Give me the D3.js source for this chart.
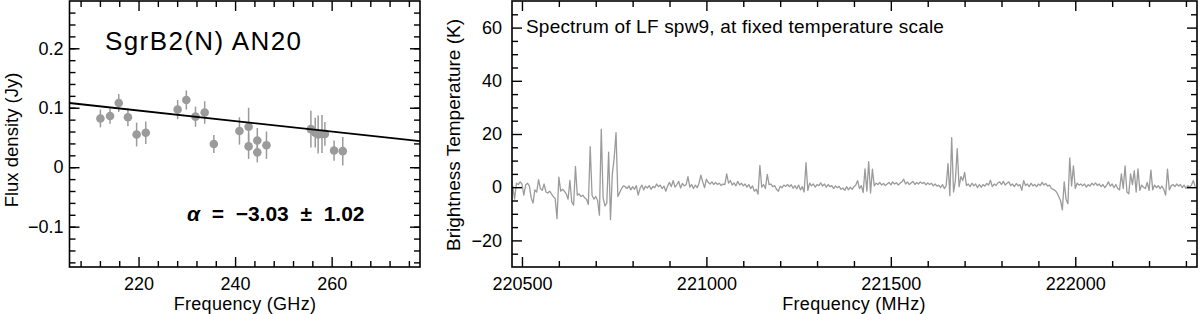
<!DOCTYPE html>
<html>
<head>
<meta charset="utf-8">
<script src="https://cdn.jsdelivr.net/npm/d3@7"></script>
<style>
  body { margin: 0; background: #fff; }
  svg { display: block; font-family: "Liberation Sans", Arial, sans-serif; }
  .tick line { stroke: #000; stroke-width: 1.4; }
  .tick text { fill: #000; }
</style>
</head>
<body>
<div id="chart-area"></div>
<script>
// ---- data: left panel (SED of AN20) ----
var sedFreq = [212.1, 214.1, 215.9, 217.8, 219.6, 221.5, 228.1, 229.9, 231.8, 233.7, 235.6,
               240.9, 242.8, 242.8, 244.6, 244.6, 246.5, 255.7, 256.6, 257.2, 258.0, 258.6, 260.5, 262.3];
var sedFlux = [0.082, 0.086, 0.108, 0.084, 0.055, 0.058, 0.097, 0.113, 0.085, 0.092, 0.039,
               0.061, 0.068, 0.035, 0.045, 0.025, 0.037, 0.064, 0.058, 0.055, 0.056, 0.056, 0.028, 0.027];
var sedErr  = [0.015, 0.013, 0.015, 0.015, 0.020, 0.019, 0.016, 0.016, 0.017, 0.019, 0.015,
               0.023, 0.032, 0.021, 0.021, 0.017, 0.023, 0.031, 0.025, 0.032, 0.032, 0.020, 0.017, 0.024];
// fitted line, read at both frame edges
var fitFreq = [205.7, 278.3];
var fitFlux = [0.108, 0.0437];

var sedXTicks = [220, 240, 260];
var sedYTicks = [-0.1, 0, 0.1, 0.2];

// ---- data: right panel (spectrum, channels every 5 MHz from 220475) ----
var specStart = 220475, specStep = 5;
var specTemp = [
  0.5, -4.5, 1.5, 1.0, 2.0, 1.2, -3.0, 0.8, 1.5, 0.5,
  -4.0, -6.0, -1.0, -1.8, 2.8, -0.5, -1.2, 1.2, -1.8, -2.2,
  -1.5, -2.5, -3.6, -4.2, -11.8, 3.8, -1.5, -0.8, -1.5, -2.5,
  -4.5, 2.6, -5.5, -6.8, 7.8, -3.0, -2.5, -3.5, -3.0, -4.0,
  -4.5, -6.5, 15.2, -3.0, -4.5, -3.5, -5.0, -10.5, 21.8, -4.0,
  -7.0, -6.0, 13.2, -12.2, 5.0, 11.0, 20.5, -3.5, -2.0, -0.5,
  0.5, 0.2, -0.5, 0.5, -1.0, 0.2, -0.8, 0.6, -3.0, -0.5,
  0.8, -1.0, 0.4, -0.3, 0.6, -0.8, 0.3, -0.2, 1.2, 0.2,
  0.8, -0.5, 0.4, -1.5, 0.5, 1.8, 0.2, 2.5, 0.0, 1.0,
  2.2, -0.3, 1.4, 0.5, 0.9, 4.0, 0.0, 1.0, -0.5, 0.8,
  -0.2, 1.5, 4.5, 2.0, -0.2, 3.0, 1.8, 1.2, 2.0, 1.0,
  1.8, 1.0, 1.5, 0.6, 1.2, 1.0, 5.0, 1.5, 2.5, 0.8,
  1.6, 0.5, 2.2, 0.8, 1.5, 0.5, 1.2, 0.0, 1.0, -0.5,
  0.5, -1.5, -0.8, -2.6, 8.2, 0.0, 1.0, -0.5, 4.8, 1.0,
  1.2, 0.2, 0.6, -0.8, -1.5, 0.4, -0.2, 0.8, 0.3, 1.0,
  0.2, 0.9, -0.4, 0.6, -0.6, 0.8, -1.0, 0.2, -1.8, 9.2,
  -1.2, 1.5, 0.5, 1.2, 0.0, 1.0, 0.6, 1.6, 0.4, 1.2,
  0.0, 1.0, 0.2, 0.6, -0.5, 0.5, -0.2, 0.3, -0.8, -0.3,
  -1.2, 0.2, -1.0, 0.0, -0.8, 0.2, 0.8, 2.5, -0.5, 0.6,
  -2.0, 6.9, -1.5, 9.6, -2.2, 6.8, 0.5, 1.5, 1.0, 1.8,
  0.8, 1.4, 0.6, 1.2, 1.8, 0.9, 2.0, 1.2, 1.7, 0.8,
  1.5, 2.0, 3.0, 1.2, 2.0, 1.0, 1.6, 2.2, 1.0, 1.8,
  1.2, 2.0, 1.4, 1.8, 0.9, 1.6, 1.0, 1.5, 0.5, 1.2,
  0.4, 0.8, -0.2, 1.0, -0.5, 0.5, 8.9, -3.2, 18.6, -1.8,
  2.5, 14.5, 0.2, 4.0, 2.5, 5.6, 0.6, 1.2, 0.2, 1.5,
  0.5, 1.2, -0.2, 1.0, 0.0, 1.0, 0.4, 1.4, 0.8, 2.6,
  0.2, 1.2, 0.6, 1.6, 2.0, 1.0, 2.2, 0.8, 1.5, 2.0,
  0.6, 1.2, 0.2, 1.4, 0.5, 1.0, -1.2, 2.5, 0.6, 1.2,
  0.2, 1.5, 0.5, 1.0, 0.2, 1.2, 0.6, 1.8, 0.8, 1.4,
  0.4, 0.8, -0.4, -0.8, -1.2, -2.0, -3.5, -5.0, -8.5, 2.0,
  -4.5, -6.2, 11.0, 0.5, 8.0, -0.5, 1.5, 0.8, 1.2, 0.5,
  1.2, 0.0, 1.0, 0.4, 1.5, 0.8, 1.6, 0.6, 1.2, 0.2,
  1.0, -0.2, 0.8, 2.0, 0.4, 1.2, -0.2, 1.0, -0.5, -1.0,
  5.0, -0.5, 8.0, -1.8, -2.5, 5.0, 1.0, 6.2, -1.8, 6.9,
  -1.2, 0.8, 0.0, -0.5, 1.8, -1.2, 6.4, -1.0, 0.8, -0.2,
  0.6, -0.5, 0.4, -0.8, -3.0, 6.8, -1.0, 0.5, 1.0, 0.2,
  1.2, 0.4, 1.0, -0.2, 0.8, -0.5, 0.6, 0.0, 0.8, 2.5,
  0.2
];
var specXTicks = [220500, 221000, 221500, 222000];
var specYTicks = [-20, 0, 20, 40, 60];

// ---- svg ----
var W = 1200, H = 314;
var svg = d3.select("#chart-area")
  .append("svg")
    .attr("width", W)
    .attr("height", H);

var grey = "#9b9b9b";
var fs = 18,      // x axis titles
    tfs = 18;     // tick labels

// draws ticks on all four sides + frame
function frame(g, x, y, xMaj, xMin, yMaj, yMin, xFmt, yFmt, yPad) {
  var x0 = x.range()[0], x1 = x.range()[1];
  var y0 = y.range()[0], y1 = y.range()[1];
  var big = 10, small = 6;
  var noDomain = function(a) { a.select(".domain").remove(); };
  var labels = function(a) {
    a.select(".domain").remove();
    a.selectAll("text").attr("font-size", tfs).attr("font-family", null);
  };

  // bottom
  g.append("g").attr("transform", "translate(0," + y0 + ")")
    .call(d3.axisBottom(x).tickValues(xMaj).tickSize(-big).tickPadding(10).tickFormat(xFmt))
    .call(labels);
  g.append("g").attr("transform", "translate(0," + y0 + ")")
    .call(d3.axisBottom(x).tickValues(xMin).tickSize(-small).tickFormat(""))
    .call(noDomain);
  // top
  g.append("g").attr("transform", "translate(0," + y1 + ")")
    .call(d3.axisTop(x).tickValues(xMaj).tickSize(-big).tickFormat(""))
    .call(noDomain);
  g.append("g").attr("transform", "translate(0," + y1 + ")")
    .call(d3.axisTop(x).tickValues(xMin).tickSize(-small).tickFormat(""))
    .call(noDomain);
  // left
  g.append("g").attr("transform", "translate(" + x0 + ",0)")
    .call(d3.axisLeft(y).tickValues(yMaj).tickSize(-big).tickPadding(yPad).tickFormat(yFmt))
    .call(labels);
  g.append("g").attr("transform", "translate(" + x0 + ",0)")
    .call(d3.axisLeft(y).tickValues(yMin).tickSize(-small).tickFormat(""))
    .call(noDomain);
  // right
  g.append("g").attr("transform", "translate(" + x1 + ",0)")
    .call(d3.axisRight(y).tickValues(yMaj).tickSize(-big).tickFormat(""))
    .call(noDomain);
  g.append("g").attr("transform", "translate(" + x1 + ",0)")
    .call(d3.axisRight(y).tickValues(yMin).tickSize(-small).tickFormat(""))
    .call(noDomain);

  g.append("rect")
    .attr("x", x0).attr("y", y1)
    .attr("width", x1 - x0).attr("height", y0 - y1)
    .attr("fill", "none").attr("stroke", "#000").attr("stroke-width", 1.6);
}

var minus = function(v) { return String(v).replace("-", "\u2212"); };

// ================= left panel =================
var x1s = d3.scaleLinear().domain([205.7, 278.3]).range([69.5, 420]);
var y1s = d3.scaleLinear().domain([-0.1678, 0.2795]).range([267, 1]);

var left = svg.append("g");

// error bars
left.selectAll(".err")
  .data(sedFreq)
  .enter().append("line")
    .attr("x1", function(d) { return x1s(d); })
    .attr("x2", function(d) { return x1s(d); })
    .attr("y1", function(d, i) { return y1s(sedFlux[i] - sedErr[i]); })
    .attr("y2", function(d, i) { return y1s(sedFlux[i] + sedErr[i]); })
    .attr("stroke", grey).attr("stroke-width", 1.5);

left.selectAll(".dot")
  .data(sedFreq)
  .enter().append("circle")
    .attr("cx", function(d) { return x1s(d); })
    .attr("cy", function(d, i) { return y1s(sedFlux[i]); })
    .attr("r", 4.3)
    .attr("fill", grey);

left.append("path")
  .datum(fitFreq)
  .attr("d", d3.line()
    .x(function(d) { return x1s(d); })
    .y(function(d, i) { return y1s(fitFlux[i]); }))
  .attr("stroke", "#000").attr("stroke-width", 1.8).attr("fill", "none");

frame(left, x1s, y1s,
  sedXTicks, d3.range(208, 278, 4).filter(function(v) { return sedXTicks.indexOf(v) < 0; }),
  sedYTicks, d3.range(-16, 28, 2).map(function(v) { return v / 100; }),
  function(d) { return d3.format("d")(d); },
  function(d) { return d === 0 ? "0" : minus(d3.format(".1f")(d)); }, 6);

left.append("text")
  .attr("x", 105).attr("y", 50)
  .attr("font-size", 26).attr("letter-spacing", 1.4)
  .text("SgrB2(N) AN20");

var alpha = left.append("text")
  .attr("x", 187).attr("y", 221)
  .attr("font-size", 21).attr("font-weight", "bold")
  .style("white-space", "pre");
alpha.append("tspan").attr("font-style", "italic").text("\u03b1");
alpha.append("tspan").text("  =  \u22123.03  \u00b1  1.02");

left.append("text")
  .attr("x", 245).attr("y", 310)
  .attr("font-size", fs).attr("letter-spacing", 0.3).attr("text-anchor", "middle")
  .text("Frequency (GHz)");

left.append("text")
  .attr("transform", "translate(18,140) rotate(-90)")
  .attr("font-size", 18.5).attr("text-anchor", "middle")
  .text("Flux density (Jy)");

// ================= right panel =================
var x2s = d3.scaleLinear().domain([220473, 222330]).range([512, 1197]);
var y2s = d3.scaleLinear().domain([-30, 70]).range([267, 1]);

var right = svg.append("g");

svg.append("defs").append("clipPath").attr("id", "clip2")
  .append("rect").attr("x", 512).attr("y", 1).attr("width", 685).attr("height", 266);

right.append("path")
  .datum(specTemp)
  .attr("clip-path", "url(#clip2)")
  .attr("d", d3.line()
    .x(function(d, i) { return x2s(specStart + i * specStep); })
    .y(function(d) { return y2s(d); }))
  .attr("stroke", grey).attr("stroke-width", 1.3).attr("fill", "none")
  .attr("stroke-linejoin", "round");

frame(right, x2s, y2s,
  specXTicks, d3.range(220500, 222400, 100).filter(function(v) { return specXTicks.indexOf(v) < 0; }),
  specYTicks, d3.range(-25, 70, 5).filter(function(v) { return v % 20 !== 0; }),
  function(d) { return String(d); },
  function(d) { return minus(d); }, 10);

right.append("text")
  .attr("x", 526).attr("y", 33)
  .attr("font-size", 19).attr("letter-spacing", 0.2)
  .text("Spectrum of LF spw9, at fixed temperature scale");

right.append("text")
  .attr("x", 854).attr("y", 310)
  .attr("font-size", fs).attr("letter-spacing", 0.3).attr("text-anchor", "middle")
  .text("Frequency (MHz)");

right.append("text")
  .attr("transform", "translate(460,135) rotate(-90)")
  .attr("font-size", 19).attr("text-anchor", "middle")
  .text("Brightness Temperature (K)");
</script>
</body>
</html>
